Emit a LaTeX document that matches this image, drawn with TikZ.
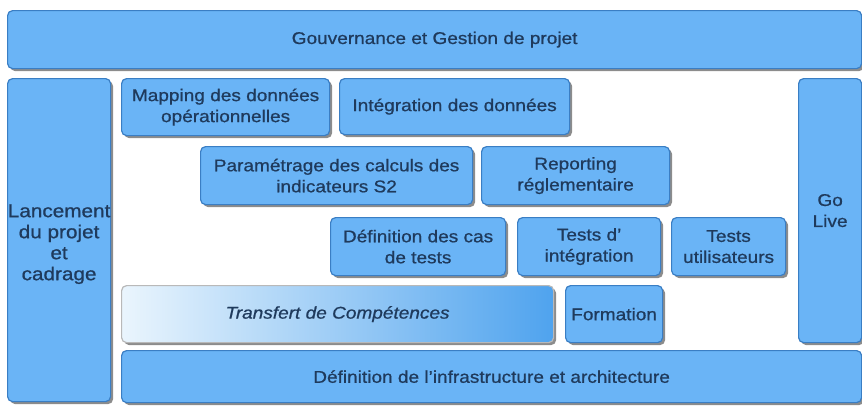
\documentclass[tikz,border=0pt]{standalone}
\usepackage{fontspec}
\setmainfont{Liberation Sans}[FakeStretch=1.12, FakeBold=0.8]
\usepackage{xcolor}
\usetikzlibrary{shadows}

\definecolor{blkfill}{HTML}{6AB4F6}
\definecolor{blkline}{HTML}{3A7EC4}
\definecolor{blktext}{HTML}{1F3A5C}
\definecolor{fadeleft}{HTML}{EAF5FD}
\definecolor{faderight}{HTML}{4FA3EE}

\tikzset{
  blk/.style={draw=blkline, line width=1.2pt, fill=blkfill, rounded corners=5pt,
    anchor=north west, align=center, inner sep=0pt, text=blktext,
    font=\fontsize{17}{21}\selectfont,
    drop shadow={shadow xshift=2.5pt, shadow yshift=-2.5pt, fill=black, opacity=.45}},
  faded/.style={blk, draw=gray!55, left color=fadeleft, right color=faderight,
    font=\fontsize{17}{21}\selectfont\itshape}
}

\begin{document}
\begin{tikzpicture}[x=1pt, y=-1pt]
  \useasboundingbox (0,0) rectangle (862,405);

  % frame rows
  \node[blk, minimum width=854pt, minimum height=58pt] (gouv) at (7,10) {Gouvernance et Gestion de projet};
  \node[blk, minimum width=103pt, minimum height=323pt, font=\fontsize{18.5}{21}\selectfont] (lanc) at (7,78) {\\Lancement\\du projet\\et\\cadrage};
  \node[blk, minimum width=63pt, minimum height=264pt] (golive) at (798,78) {Go\\Live};
  \node[blk, minimum width=740pt, minimum height=52pt] (infra) at (121,350) {D\'efinition de l'infrastructure et architecture};

  % first row
  \node[blk, minimum width=208pt, minimum height=57pt] (mapping) at (121,78) {Mapping des donn\'ees\\op\'erationnelles};
  \node[blk, minimum width=230pt, minimum height=56pt] (integ) at (339,78) {Int\'egration des donn\'ees};

  % second row
  \node[blk, minimum width=272pt, minimum height=58pt] (param) at (200,146) {Param\'etrage des calculs des\\indicateurs S2};
  \node[blk, minimum width=188pt, minimum height=58pt] (report) at (481,146) {Reporting\\r\'eglementaire};

  % tests
  \node[blk, minimum width=175pt, minimum height=58pt] (cas) at (330,217) {D\'efinition des cas\\de tests};
  \node[blk, minimum width=143pt, minimum height=58pt] (tinteg) at (517,217) {Tests d'\\int\'egration};
  \node[blk, minimum width=114pt, minimum height=58pt] (tutil) at (671,217) {Tests\\utilisateurs};

  % transfer
  \node[faded, minimum width=432pt, minimum height=57pt] (transf) at (121,285) {Transfert de Comp\'etences};
  \node[blk, minimum width=97pt, minimum height=57pt] (form) at (565,285) {Formation};
\end{tikzpicture}
\end{document}
